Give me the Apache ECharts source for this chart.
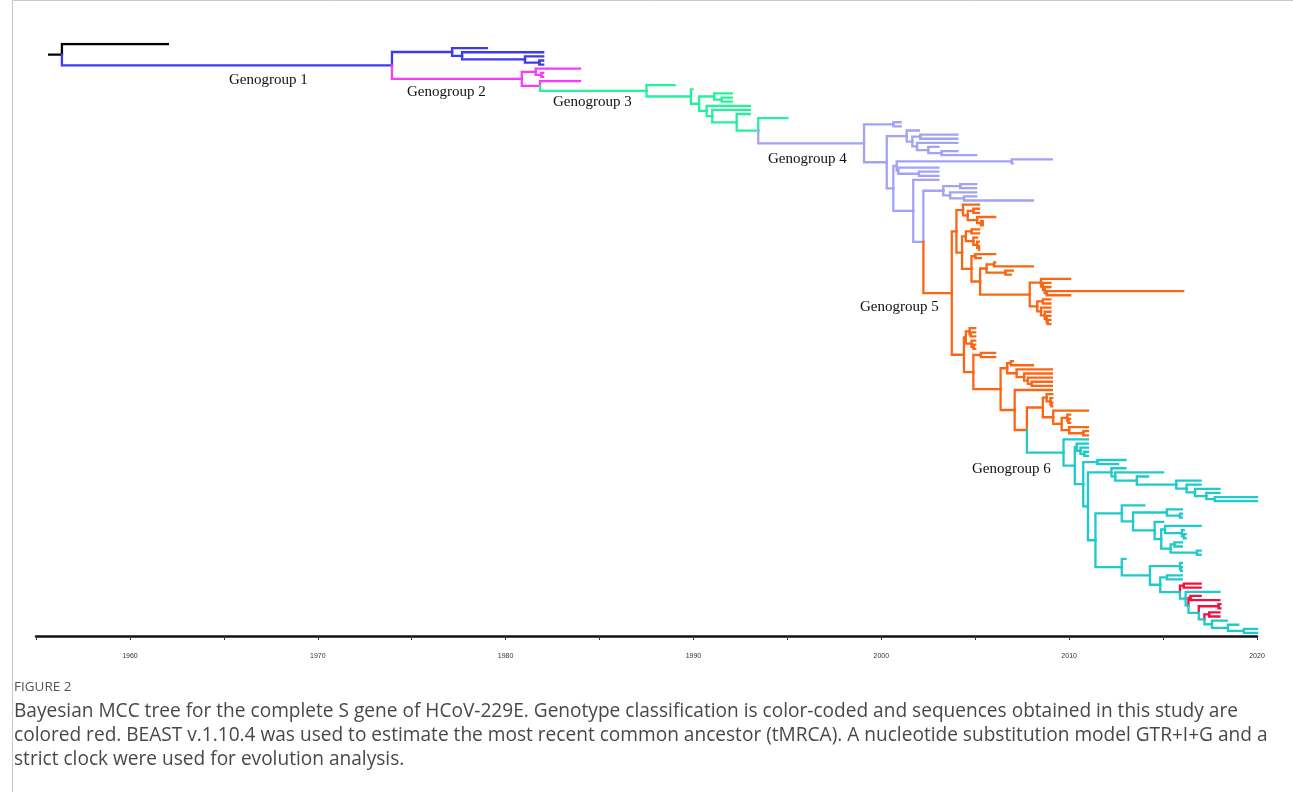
<!DOCTYPE html>
<html>
<head>
<meta charset="utf-8">
<script src="https://cdn.jsdelivr.net/npm/echarts@6/dist/echarts.min.js"></script>
<style>
  html, body { margin: 0; padding: 0; background: #ffffff; }
  #chart { width: 1293px; height: 792px; }
</style>
</head>
<body>
<div id="chart"></div>
<script>
// Dates are decimal years. A tip is a number (its sampling date);
// an internal node is [nodeDate, child, child, ...] listed top to bottom.

// ---- Genogroup 6 (with the sequences from this study in red) ----
const g6Red1 = [2016.1, 2017.0, 2017.0];
const g6Red2 = [2016.45, 2017.0, 2018.0];
const g6Red3 = [2017.95, 2018.05, 2018.05];
const g6Red4 = [2017.45, 2018.0, 2018.0];
const g6Tail = [2017.6, 2018.4, [2018.45, 2019.0, [2019.3, 2020.0, 2020.0]]];
const g6LowerB = [2012.8, 2013.0,
  [2014.3, [2015.9, 2016.0, [2015.95, 2016.0, 2016.0]],
    [2014.85, [2015.2, 2016.0, 2016.0],
      [2015.9, g6Red1,
        [2016.2, 2018.0,
          [2016.35, g6Red2,
            [2016.9, g6Red3,
              [2017.2, g6Red4, g6Tail]]]]]]]];
const g6LowerA = [2012.8, 2014.0,
  [2013.4,
    [2015.2, 2016.0, [2015.9, 2016.0, 2016.0]],
    [2014.55, 2015.0,
      [2014.9,
        [2015.1, 2017.0, [2016.0, 2016.1, [2016.1, 2016.2, 2016.2]]],
        [2015.4, [2015.6, 2016.0, 2016.0], [2016.8, 2017.0, 2017.0]]]]]];
const g6Upper = [2012.25, 2013.0,
  [2012.45, 2015.0,
    [2013.6, 2014.2,
      [2015.7, 2017.0,
        [2016.25, 2017.0,
          [2016.7, 2018.0,
            [2017.3, 2018.0,
              [2017.75, 2020.0, 2020.0]]]]]]]];
const genogroup6 = [2009.7, 2011.0,
  [2010.3, [2010.4, 2011.0, [2010.6, 2011.0, [2010.8, 2011.0, 2011.0]]],
    [2010.75, [2011.5, 2013.0, 2012.6],
      [2011.0, g6Upper, [2011.4, g6LowerA, g6LowerB]]]]];

// ---- Genogroup 5 ----
const g5bTail = [2008.6, [2008.8, 2009.1, [2009.0, 2009.1, [2009.05, 2009.1, 2009.1]]],
  [2009.15, 2011.0,
    [2009.6, [2009.9, 2010.05, [2009.95, 2010.05, 2010.05]],
      [2010.0, 2011.0, [2010.75, 2011.0, 2011.0]]]]];
const g5bLadder = [2006.7, [2006.9, 2007.0, 2008.07],
  [2007.2, 2009.08, [2007.6, 2009.08, [2007.8, 2009.08, [2008.0, 2009.08, 2009.08]]]]];
const g5bTop = [2004.5, [2004.7, 2005.0, [2004.75, 2005.0, 2005.0]],
  [2004.8, 2005.0, [2004.9, 2005.0, 2005.0]]];
const g5b = [2004.4, g5bTop,
  [2004.9, [2005.3, 2006.06, 2006.06],
    [2006.35, g5bLadder,
      [2007.1, 2009.08, [2007.75, g5bTail, genogroup6]]]]];
const g5aTop = [2004.35, 2005.2,
  [2004.6, [2004.9, 2005.2, 2005.2], [2005.1, 2006.06, [2005.4, 2005.3, 2005.3]]]];
const g5aMid = [2004.5, [2004.8, 2005.2, 2005.2],
  [2004.9, 2005.1, [2005.1, 2005.2, [2005.2, 2005.2, 2005.2]]]];
const g5aLate = [2007.9,
  [2008.5, 2010.05, [2008.6, 2009.0, [2008.7, 2009.0, [2008.8, 2016.07, 2010.05]]]],
  [2008.3, [2008.6, 2009.0, 2009.0],
    [2008.5, 2009.0, [2008.7, 2009.0, [2008.8, 2009.0, [2008.85, 2009.0, 2009.0]]]]]];
const g5a = [2004.0, g5aTop,
  [2004.3, g5aMid,
    [2004.8, [2005.0, 2006.06, 2005.3],
      [2005.26, [2005.6, [2006.0, 2006.06, 2008.07], [2006.6, 2007.0, 2006.9]], g5aLate]]]];
const genogroup5 = [2003.75, g5a, g5b];

// ---- Genogroup 4 ----
const g4Early = [2001.35, 2002.0,
  [2001.65, [2002.07, 2004.05, 2004.05],
    [2001.9, 2004.05, [2002.5, 2003.04, [2003.2, 2004.05, 2005.05]]]]];
const g4Mid = [2000.82, [2006.94, 2009.08, 2007.0],
  [2000.9, 2003.04, [2002.0, 2003.04, 2003.04]]];
const g4Late = [2003.3, [2004.2, 2005.05, 2005.05],
  [2003.66, 2005.05, [2004.4, 2005.05, 2008.07]]];
const genogroup4 = [1999.08, [2000.64, 2001.03, 2001.03],
  [2000.29, g4Early,
    [2000.64, g4Mid,
      [2001.7, 2003.04, [2002.24, g4Late, genogroup5]]]]];

// ---- Genogroups 3, 2, 1 and the root ----
const genogroup3 = [1987.5, 1989.0,
  [1989.86, 1989.95,
    [1990.3, [1991.1, 1992.04, [1991.5, 1992.04, 1992.04]],
      [1990.7, 1993.0, [1991.0, 1993.0, [1992.3, 1993.0, [1993.45, 1995.0, genogroup4]]]]]]];
const genogroup2 = [1980.86, [1981.6, 1983.96, [1981.9, 1982.0, 1982.0]],
  [1981.83, 1983.96, genogroup3]];
const genogroup1 = [1973.95,
  [1977.15, 1979.0, [1977.68, 1982.0, [1981.03, 1982.0, [1981.79, 1982.0, 1982.0]]]],
  genogroup2];
const treeRoot = [1956.38, 1962.02, genogroup1];
const rootStemStart = 1955.7;

// Branch colours: a clade keeps its colour until a nested clade overrides it
const cladeColours = new Map([
  [treeRoot, '#000000'],
  [genogroup1, '#3b3bf0'],
  [genogroup2, '#f53df5'],
  [genogroup3, '#25f19c'],
  [genogroup4, '#a2a2f6'],
  [genogroup5, '#fa6614'],
  [genogroup6, '#1fcaca'],
  [g6Red1, '#f5103c'],
  [g6Red2, '#f5103c'],
  [g6Red3, '#f5103c'],
  [g6Red4, '#f5103c']
]);

const genogroupNames = ['Genogroup 1', 'Genogroup 2', 'Genogroup 3',
                        'Genogroup 4', 'Genogroup 5', 'Genogroup 6'];
const axisYears = [1955, 2020];

const captionTitle = 'FIGURE 2';
const captionLines = [
  'Bayesian MCC tree for the complete S gene of HCoV-229E. Genotype classification is color-coded and sequences obtained in this study are',
  'colored red. BEAST v.1.10.4 was used to estimate the most recent common ancestor (tMRCA). A nucleotide substitution model GTR+I+G and a',
  'strict clock were used for evolution analysis.'
];

// ---- Layout: tips evenly spaced, each node midway between first and last child ----
let tipCount = 0;
function layout(node, inherited) {
  const colour = cladeColours.get(node) || inherited;
  if (typeof node === 'number') {
    return { date: node, y: tipCount++, colour, kids: [] };
  }
  const date = node[0];
  const kids = node.slice(1).map(child => layout(child, colour));
  const y = (kids[0].y + kids[kids.length - 1].y) / 2;
  return { date, y, colour, kids };
}
const laidOut = layout(treeRoot, '#000000');

const branches = [];
branches.push({ coords: [[rootStemStart, laidOut.y], [laidOut.date, laidOut.y]],
                lineStyle: { color: laidOut.colour } });
(function collect(n) {
  n.kids.forEach(k => {
    branches.push({
      coords: [[n.date, n.y], [n.date, k.y], [k.date, k.y]],
      lineStyle: { color: k.colour }
    });
    collect(k);
  });
})(laidOut);

const chart = echarts.init(document.getElementById('chart'), null, { renderer: 'canvas' });

const labelFont = '15px "Liberation Serif", "Times New Roman", serif';
const labelSpots = [[229, 79], [407, 91], [553, 101], [768, 158], [860, 306], [972, 468]];

const graphics = [
  { type: 'line', shape: { x1: 12.5, y1: 0, x2: 12.5, y2: 792 }, style: { stroke: '#c8c8c8', lineWidth: 1 }, silent: true },
  { type: 'line', shape: { x1: 12, y1: 0.5, x2: 1293, y2: 0.5 }, style: { stroke: '#c8c8c8', lineWidth: 1 }, silent: true },
  { type: 'text', left: 14, top: 680, style: { text: captionTitle, font: '13.5px "Open Sans", sans-serif', fill: '#555555' } }
];
genogroupNames.forEach((name, i) => {
  graphics.push({ type: 'text', left: labelSpots[i][0], top: labelSpots[i][1] - 6,
                  style: { text: name, font: labelFont, fill: '#111111' } });
});
captionLines.forEach((line, i) => {
  graphics.push({ type: 'text', left: 14, top: 702 + i * 24,
                  style: { text: line, font: '19.1px "Open Sans", sans-serif', fill: '#484848' } });
});

chart.setOption({
  animation: false,
  backgroundColor: '#ffffff',
  grid: { left: 36, right: 36, top: 44, bottom: 159 },
  xAxis: {
    type: 'value',
    position: 'bottom',
    min: axisYears[0],
    max: axisYears[1],
    interval: 5,
    offset: 3,
    axisLine: { show: true, onZero: false, lineStyle: { color: '#111111', width: 2.5 } },
    axisTick: { show: true, length: 4, lineStyle: { color: '#333333', width: 1 } },
    splitLine: { show: false },
    axisLabel: {
      margin: 17,
      fontSize: 7,
      color: '#333333',
      fontFamily: '"Liberation Sans Narrow", "Liberation Sans", sans-serif',
      showMinLabel: true,
      showMaxLabel: true,
      formatter: v => (v % 10 === 0 ? String(v) : '')
    }
  },
  yAxis: {
    type: 'value',
    inverse: true,
    min: 0,
    max: tipCount - 1,
    show: false
  },
  series: [{
    type: 'lines',
    coordinateSystem: 'cartesian2d',
    polyline: true,
    silent: true,
    lineStyle: { width: 2.3, opacity: 1, cap: 'square' },
    data: branches
  }],
  graphic: graphics
});
</script>
</body>
</html>
